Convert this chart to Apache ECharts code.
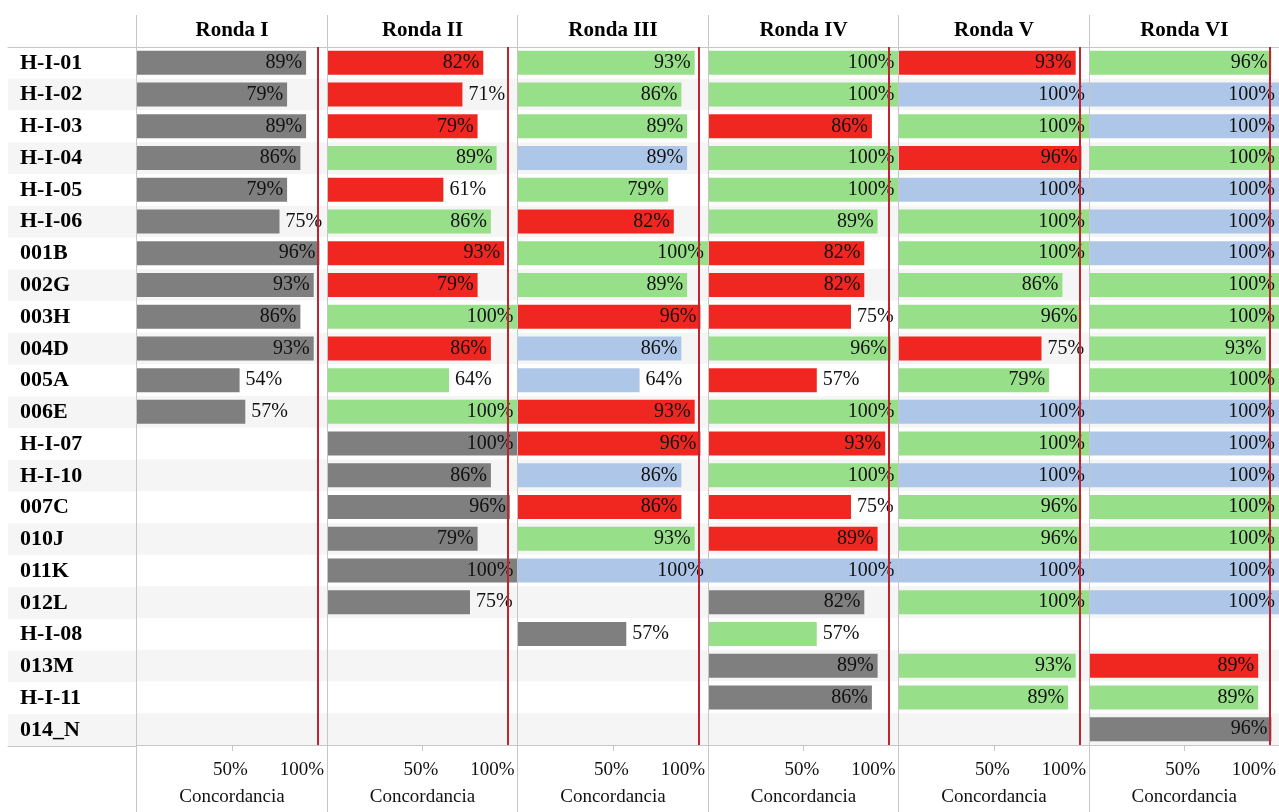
<!DOCTYPE html>
<html>
<head>
<meta charset="utf-8">
<script src="https://cdn.jsdelivr.net/npm/echarts@6/dist/echarts.min.js"></script>
<style>
html,body{margin:0;padding:0;background:#fff;}
#chart{width:1279px;height:812px;}
</style>
</head>
<body>
<div id="chart"></div>
<script>
// ---------- DATA ----------
const categories = ['H-I-01','H-I-02','H-I-03','H-I-04','H-I-05','H-I-06','001B','002G','003H','004D','005A','006E','H-I-07','H-I-10','007C','010J','011K','012L','H-I-08','013M','H-I-11','014_N'];
const rondas = ['Ronda I','Ronda II','Ronda III','Ronda IV','Ronda V','Ronda VI'];
const xTicks = [50, 100];
const referencia = [95, 95, 95, 95, 95, 95];

// G = gris, R = rojo, V = verde, A = azul
const ronda1 = [89,79,89,86,79,75,96,93,86,93,54,57,null,null,null,null,null,null,null,null,null,null];
const color1 = ['G','G','G','G','G','G','G','G','G','G','G','G',null,null,null,null,null,null,null,null,null,null];
const ronda2 = [82,71,79,89,61,86,93,79,100,86,64,100,100,86,96,79,100,75,null,null,null,null];
const color2 = ['R','R','R','V','R','V','R','R','V','R','V','V','G','G','G','G','G','G',null,null,null,null];
const ronda3 = [93,86,89,89,79,82,100,89,96,86,64,93,96,86,86,93,100,null,57,null,null,null];
const color3 = ['V','V','V','A','V','R','V','V','R','A','A','R','R','A','R','V','A',null,'G',null,null,null];
const ronda4 = [100,100,86,100,100,89,82,82,75,96,57,100,93,100,75,89,100,82,57,89,86,null];
const color4 = ['V','V','R','V','V','V','R','R','R','V','R','V','R','V','R','R','A','G','V','G','G',null];
const ronda5 = [93,100,100,96,100,100,100,86,96,75,79,100,100,100,96,96,100,100,null,93,89,null];
const color5 = ['R','A','V','R','A','V','V','V','V','R','V','A','V','A','V','V','A','V',null,'V','V',null];
const ronda6 = [96,100,100,100,100,100,100,100,100,93,100,100,100,100,100,100,100,100,null,89,89,96];
const color6 = ['V','A','A','V','A','A','A','V','V','V','V','A','A','A','V','V','A','A',null,'R','V','G'];

const valores = [ronda1, ronda2, ronda3, ronda4, ronda5, ronda6];
const colores = [color1, color2, color3, color4, color5, color6];

// ---------- STYLE ----------
const palette = {G:'#7f7f7f', R:'#f02721', V:'#98df8a', A:'#aec7e8'};
const FONT = '"Liberation Serif","Times New Roman",serif';
const lineColor = '#c6c6c6';
const bandColors = ['#ffffff', '#f5f5f5'];

const CW = 1279, CH = 812;
const plotTop = 47, plotBottom = 746;
const labelLeft = 8, panelStart = 136;
const panelW = (CW - panelStart) / 6;

const grids = [], xAxes = [], yAxes = [], series = [], graphics = [];

for (let i = 0; i < 6; i++) {
  const left = panelStart + i * panelW + 1;
  grids.push({left: left, top: plotTop, width: panelW - 0.5, height: plotBottom - plotTop});
  xAxes.push({
    gridIndex: i, type: 'value', min: 0, max: 100, interval: 50, position: 'bottom',
    axisLine: {show: true, lineStyle: {color: lineColor, width: 1}},
    axisTick: {show: true, length: 6, lineStyle: {color: lineColor}},
    axisLabel: {show: true, showMinLabel: false, formatter: v => xTicks.includes(v) ? v + '%' : '',
      fontFamily: FONT, fontSize: 19, color: '#111', margin: 16, alignMaxLabel: 'right',
      padding: [0, 3, 0, 0]},
    splitLine: {show: false},
    name: 'Concordancia', nameLocation: 'middle', nameGap: 43,
    nameTextStyle: {fontFamily: FONT, fontSize: 19, color: '#111'}
  });
  xAxes.push({
    gridIndex: i, type: 'value', min: 0, max: 100, position: 'top',
    axisLine: {show: true, lineStyle: {color: lineColor, width: 1}},
    axisTick: {show: false}, axisLabel: {show: false}, splitLine: {show: false},
    name: rondas[i], nameLocation: 'middle', nameGap: 6,
    nameTextStyle: {fontFamily: FONT, fontSize: 21, fontWeight: 'bold', color: '#000'}
  });
  yAxes.push({
    gridIndex: i, type: 'category', data: categories, inverse: true,
    axisLine: {show: false}, axisTick: {show: false}, axisLabel: {show: false},
    splitArea: {show: true, areaStyle: {color: bandColors}}
  });
  const vals = valores[i], cols = colores[i];
  series.push({
    type: 'bar', xAxisIndex: 2 * i, yAxisIndex: i, barWidth: 24,
    data: vals.map((v, j) => v == null ? '-' : {
      value: v,
      itemStyle: {color: palette[cols[j]]},
      label: {position: v >= 77 ? 'insideRight' : 'right', distance: v >= 77 ? 4 : 6}
    }),
    label: {show: true, formatter: '{c}%', fontFamily: FONT, fontSize: 20, color: '#111'},
    markLine: {
      silent: true, symbol: 'none', label: {show: false},
      lineStyle: {color: '#c0252f', width: 2, type: 'solid'},
      data: [{xAxis: referencia[i]}]
    },
    animation: false
  });
}

// row label column
const gi = 6;
grids.push({left: labelLeft, top: plotTop, width: panelStart - labelLeft, height: plotBottom - plotTop});
xAxes.push({gridIndex: gi, type: 'value', position: 'bottom',
  axisLine: {show: true, lineStyle: {color: lineColor}}, axisTick: {show: false}, axisLabel: {show: false}, splitLine: {show: false}});
xAxes.push({gridIndex: gi, type: 'value', position: 'top',
  axisLine: {show: true, lineStyle: {color: lineColor}}, axisTick: {show: false}, axisLabel: {show: false}, splitLine: {show: false}});
yAxes.push({
  gridIndex: gi, type: 'category', data: categories, inverse: true,
  axisLine: {show: false}, axisTick: {show: false},
  axisLabel: {show: true, inside: true, margin: 12, align: 'left',
    fontFamily: FONT, fontSize: 22, fontWeight: 'bold', color: '#000'},
  splitArea: {show: true, areaStyle: {color: bandColors}}
});

// panel separators
for (let i = 0; i < 6; i++) {
  const x = Math.round(panelStart + i * panelW) + 0.5;
  graphics.push({type: 'line', z: 100, silent: true,
    shape: {x1: x, y1: 15, x2: x, y2: CH},
    style: {stroke: lineColor, lineWidth: 1}});
}

const chart = echarts.init(document.getElementById('chart'), null, {renderer: 'canvas'});
chart.setOption({
  animation: false,
  backgroundColor: '#ffffff',
  grid: grids, xAxis: xAxes, yAxis: yAxes, series: series, graphic: graphics
});
</script>
</body>
</html>
